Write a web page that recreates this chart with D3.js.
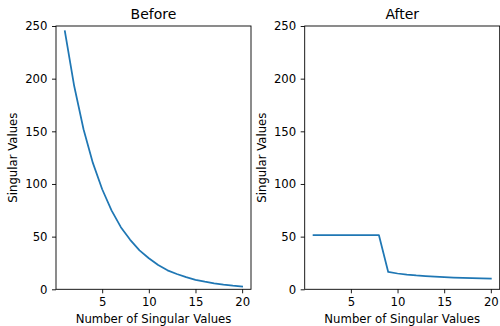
<!DOCTYPE html>
<html>
<head>
<meta charset="utf-8">
<script src="https://cdn.jsdelivr.net/npm/d3@7"></script>
<style>
  body { margin: 0; background: #fff; }
  text { font-family: "DejaVu Sans", sans-serif; fill: #000; }
</style>
</head>
<body>
<script>
// singular values
var ranks = d3.range(1, 21);
var before = [245, 193, 152, 120, 95, 75, 59, 47, 37, 29.5,
              23, 18, 14.5, 11.5, 9, 7.2, 5.7, 4.5, 3.5, 2.7];
var after = [51.5, 51.5, 51.5, 51.5, 51.5, 51.5, 51.5, 51.5, 16.5, 15,
             14, 13.2, 12.6, 12.1, 11.6, 11.2, 10.9, 10.6, 10.3, 10.1];
var xTicks = [5, 10, 15, 20];
var yTicks = [0, 50, 100, 150, 200, 250];

var W = 500, H = 326;
var svg = d3.select("body").append("svg")
    .attr("width", W)
    .attr("height", H);

var panels = [
  {title: "Before", values: before, left: 56},
  {title: "After", values: after, left: 304.7}
];
var pw = 195, plotTop = 26, ph = 263.3;

panels.forEach(function(p) {
    var x = d3.scaleLinear().domain([0.05, 20.95]).range([0, pw]);
    var y = d3.scaleLinear().domain([0, 250]).range([ph, 0]);

    var g = svg.append("g")
        .attr("transform", "translate(" + p.left + "," + plotTop + ")");

    var line = d3.line()
        .x(function(d, i) { return x(ranks[i]); })
        .y(function(d) { return y(d); });

    g.append("path")
        .datum(p.values)
        .attr("d", line)
        .attr("fill", "none")
        .attr("stroke", "#1f77b4")
        .attr("stroke-width", 1.75)
        .attr("stroke-linejoin", "round")
        .attr("stroke-linecap", "square");

    var xAxis = g.append("g")
        .attr("transform", "translate(0," + ph + ")")
        .call(d3.axisBottom(x).tickValues(xTicks).tickSize(4).tickPadding(4));
    var yAxis = g.append("g")
        .call(d3.axisLeft(y).tickValues(yTicks).tickSize(4).tickPadding(4.5));
    [xAxis, yAxis].forEach(function(a) {
        a.select(".domain").remove();
        a.selectAll("line").attr("stroke", "#000").attr("stroke-width", 0.9);
        a.selectAll("text").style("font-family", "DejaVu Sans")
            .style("font-size", "11.7px").attr("fill", "#000");
    });

    g.append("rect")
        .attr("width", pw)
        .attr("height", ph)
        .attr("fill", "none")
        .attr("stroke", "#000")
        .attr("stroke-width", 0.9);

    g.append("text")
        .attr("x", pw / 2)
        .attr("y", -7)
        .attr("text-anchor", "middle")
        .style("font-size", "14px")
        .text(p.title);

    g.append("text")
        .attr("x", pw / 2)
        .attr("y", ph + 33.5)
        .attr("text-anchor", "middle")
        .style("font-size", "11.7px")
        .text("Number of Singular Values");

    g.append("text")
        .attr("transform", "translate(-39," + (ph / 2) + ") rotate(-90)")
        .attr("text-anchor", "middle")
        .style("font-size", "11.7px")
        .text("Singular Values");
});
</script>
</body>
</html>
